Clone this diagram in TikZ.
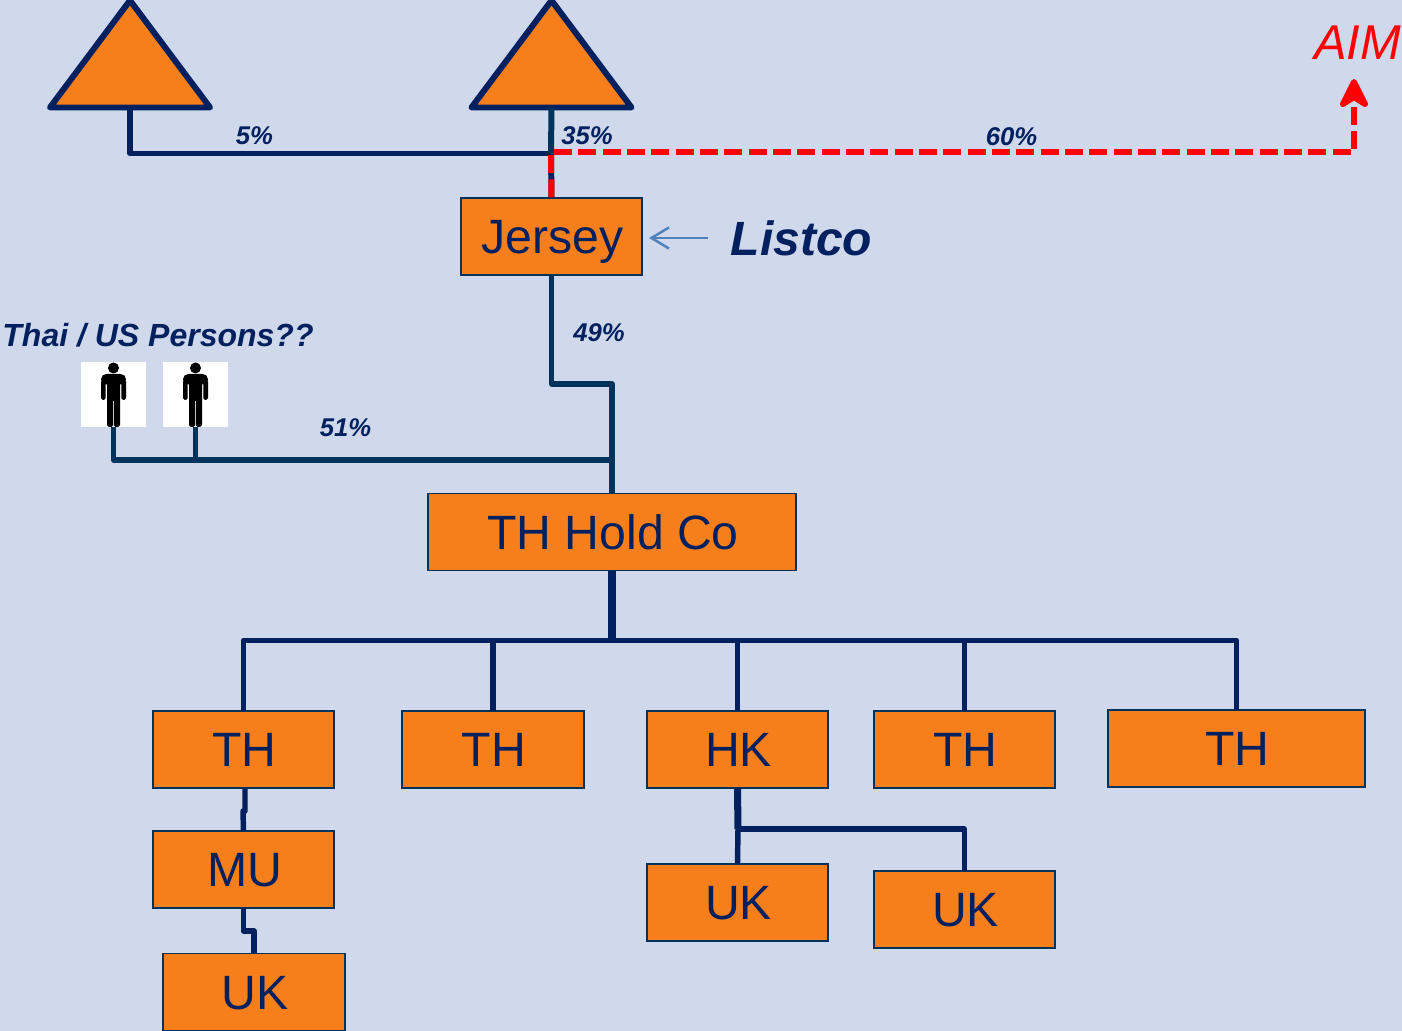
\documentclass[tikz,border=0pt]{standalone}
\usepackage{fontspec}
\setmainfont{Liberation Sans}
\usepackage{xcolor}
\usetikzlibrary{arrows.meta, shapes.geometric, positioning, calc}
\definecolor{bgblue}{HTML}{CFD9EB}
\definecolor{boxorange}{HTML}{F77F1B}
\definecolor{navyline}{HTML}{002060}
\definecolor{tealline}{HTML}{00335B}
\definecolor{listblue}{HTML}{4F81BD}
\tikzset{
  orangebox/.style={draw=tealline, line width=0.55pt, fill=boxorange, text=navyline, inner sep=0pt, outer sep=0pt,
    minimum width=1.81cm, minimum height=0.77cm, text height=0.34cm, text depth=0cm, font=\fontsize{13.7}{15}\selectfont,
    execute at begin node={\hskip0.02cm}},
  holder/.style={isosceles triangle, isosceles triangle stretches, shape border rotate=90, draw=navyline, fill=boxorange,
    line width=1.7pt, line join=round, inner sep=0pt, outer sep=0pt, minimum width=1.6cm, minimum height=1.07cm, anchor=lower side},
  pctlabel/.style={text=navyline, inner sep=0pt, font=\fontsize{7.3}{9}\selectfont\bfseries\itshape},
  boldnote/.style={text=navyline, inner sep=0pt, font=\bfseries\itshape},
  navyconn/.style={draw=navyline, line width=1.55pt, line join=round},
  tealconn/.style={draw=tealline, line width=1.55pt, line join=round},
  redconn/.style={draw=red, line width=1.7pt, dash pattern=on 5.12pt off 1.8pt},
  whitebox/.style={fill=white, inner sep=0pt, outer sep=0pt, minimum size=0.65cm},
  person/.pic={
    \fill[black] (0,-26.5) circle (5.5);
    \fill[black, rounded corners=1.5pt] (-12.5,-10) -- (-12.5,-20.5) -- (12.5,-20.5) -- (12.5,-10) -- cycle;
    \fill[black, rounded corners=0.5pt] (-12.5,-15) rectangle (-7.8,5.5);
    \fill[black, rounded corners=0.5pt] (7.8,-15) rectangle (12.5,5.5);
    \fill[black, rounded corners=0.5pt] (-6.5,-15) rectangle (-0.4,32.5);
    \fill[black, rounded corners=0.5pt] (0.4,-15) rectangle (6.5,32.5);
    \fill[black] (-1,-15) rectangle (1,7);
  }
}
\begin{document}
\begin{tikzpicture}[x=0.01cm, y=-0.01cm]
  % Background, fixes the page
  \fill[bgblue] (0,0) rectangle (1402,1031);
  \useasboundingbox (0,0) rectangle (1402,1031);

  % Shareholder triangles
  \node[holder] (triLeft) at (130,107.5) {};
  \node[holder] (triMid) at (551.5,107.5) {};

  % Company boxes
  \node[orangebox] (jersey) at (551.5,236.5) {Jersey};
  \node[orangebox, minimum width=3.68cm] (holdco) at (612,532) {TH Hold Co};
  \foreach \name/\x/\label in {thA/243.5/TH, thB/493/TH, hk/737.5/HK, thC/964.5/TH} {
    \node[orangebox] (\name) at (\x,749.5) {\label};
  }
  \node[orangebox, minimum width=2.57cm] (thD) at (1236.5,748.5) {TH};
  \node[orangebox] (mu) at (243.5,869.5) {MU};
  \node[orangebox] (ukA) at (254,992) {UK};
  \node[orangebox] (ukB) at (737.5,902.5) {UK};
  \node[orangebox] (ukC) at (964.5,909.5) {UK};

  % Persons
  \node[whitebox] (personA) at (113.5,394.5) {};
  \node[whitebox] (personB) at (195.5,394.5) {};
  \pic at (personA) {person};
  \pic at (personB) {person};

  % Junction points
  \coordinate (topJoin) at (551,153.3);
  \coordinate (aimTurn) at (1354,152);
  \coordinate (jerseyTurn) at (612,384);
  \coordinate (personJoin) at (612,460);
  \coordinate (bus) at (612,640.5);
  \coordinate (hkJoin) at (738,829);
  \node[text=red, inner sep=0pt, font=\fontsize{13.9}{15}\selectfont\itshape] (aim) at (1357.5,43) {AIM};
  \coordinate (aimTip) at (1354,82);

  % Lines into Jersey and on to AIM
  \draw[navyconn] (triLeft.lower side) |- (topJoin);
  \draw[tealconn, line width=1.7pt] (triMid.lower side) -- (topJoin);
  \draw[navyconn, line width=1.7pt] (topJoin) -- (jersey.north);
  \draw[redconn] (551,155) -- (jersey.north);
  \draw[redconn] (554,152) -- (1354,152);
  \draw[redconn] (1354,149) -- (1354,107);
  \draw[draw=red, fill=red, line width=1.7pt, line cap=round, line join=round] (1343,104) -- (aimTip) -- (1365,104) -- (1354,97) -- cycle;

  % Lines from Jersey and the persons
  \draw[tealconn] (jersey.south) |- (jerseyTurn) -- (holdco.north);
  \draw[tealconn] (personA.south) |- (personJoin);
  \draw[tealconn] (personB.south) -- (personB.south |- personJoin);

  % Tree below TH Hold Co
  \draw[navyconn, line width=2pt] (holdco.south) -- (bus);
  \draw[navyconn] (thA.north) |- (bus) -| (thD.north);
  \foreach \name in {thB, hk, thC} {
    \draw[navyconn] (\name.north) -- (\name.north |- bus);
  }
  \draw[navyconn] ([xshift=0.015cm]thA.south) -- ++(0,23) -- ++(-2,0) -- (mu.north);
  \draw[navyconn] (mu.south) -- ++(0,23) -| (ukA.north);
  \draw[navyconn, line width=2pt] (hk.south) -- (hkJoin);
  \draw[navyconn] (hkJoin) -- (ukB.north);
  \draw[navyconn] (hkJoin) -| (ukC.north);

  % Percentages and notes
  \node[pctlabel] (pctFive) at (254.5,136) {5\%};
  \node[pctlabel] (pctMid) at (587,136) {35\%};
  \node[pctlabel] (pctAim) at (1011.5,137) {60\%};
  \node[pctlabel] (pctJersey) at (599,333) {49\%};
  \node[pctlabel] (pctThai) at (345.5,428) {51\%};
  \node[boldnote, font=\fontsize{13.66}{15}\selectfont\bfseries\itshape, right=0.88cm of jersey, yshift=-0.02cm] (listco) {Listco};
  \node[boldnote, font=\fontsize{9.1}{11}\selectfont\bfseries\itshape] (thai) at (158,335) {Thai / US Persons??};
  \draw[-{Straight Barb[length=5pt, width=6pt]}, draw=listblue, line width=0.7pt] ([xshift=-0.22cm, yshift=-0.015cm]listco.west |- jersey.east) -- ([xshift=0.07cm, yshift=-0.015cm]jersey.east);
\end{tikzpicture}
\end{document}
